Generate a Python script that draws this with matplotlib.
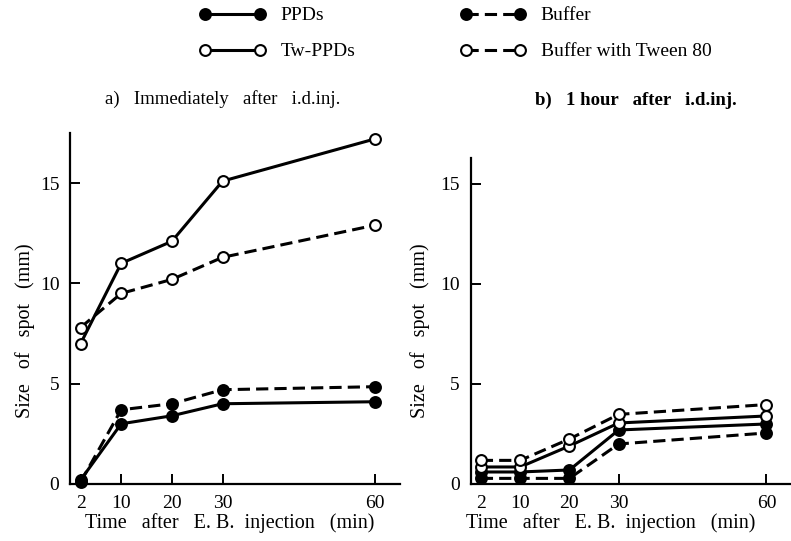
import matplotlib
matplotlib.use("Agg")
import matplotlib.pyplot as plt
from matplotlib.lines import Line2D

plt.rcParams['font.family'] = ['Liberation Serif', 'DejaVu Serif']

# time after E.B. injection (min)
time = [2, 10, 20, 30, 60]
time_ticks = [2, 10, 20, 30, 60]
size_ticks = [0, 5, 10, 15]

# a) immediately after i.d. injection
a_ppds = [0.2, 3.0, 3.4, 4.0, 4.1]
a_tw_ppds = [7.0, 11.0, 12.1, 15.1, 17.2]
a_buffer = [0.1, 3.7, 4.0, 4.7, 4.85]
a_buffer_tw = [7.8, 9.5, 10.2, 11.3, 12.9]

# b) 1 hour after i.d. injection
b_ppds = [0.6, 0.6, 0.7, 2.7, 3.0]
b_tw_ppds = [0.85, 0.85, 1.9, 3.05, 3.4]
b_buffer = [0.28, 0.28, 0.28, 2.0, 2.55]
b_buffer_tw = [1.18, 1.18, 2.25, 3.48, 3.97]

labels = ['PPDs', 'Tw-PPDs', 'Buffer', 'Buffer with Tween 80']

LW = 2.2
MS = 7.8
DASH = (4, 2)


def style(filled, dashed):
    kw = dict(color='black', lw=LW, marker='o', ms=MS, mew=1.5,
              mec='black', mfc='black' if filled else 'white', clip_on=False)
    if dashed:
        kw['dashes'] = DASH
    else:
        kw['ls'] = '-'
    return kw


styles = [style(True, False), style(False, False),
          style(True, True), style(False, True)]

fig = plt.figure(figsize=(7.91, 5.41), dpi=100)

ax_a = fig.add_axes([0.0891, 0.1054, 0.4166, 0.6488])
ax_b = fig.add_axes([0.5954, 0.1054, 0.4046, 0.6026])


def setup_ax(ax, series, ytop):
    for y, st in zip(series, styles):
        ax.plot(time, y, **st)
    ax.set_xlim(0, 65)
    ax.set_ylim(0, ytop)
    ax.spines['top'].set_visible(False)
    ax.spines['right'].set_visible(False)
    for s in ('left', 'bottom'):
        ax.spines[s].set_linewidth(1.6)
    ax.set_xticks(time_ticks)
    ax.set_yticks(size_ticks)
    ax.tick_params(direction='in', length=7, width=1.4, labelsize=14, pad=8)


setup_ax(ax_a, [a_ppds, a_tw_ppds, a_buffer, a_buffer_tw], 17.5)
setup_ax(ax_b, [b_ppds, b_tw_ppds, b_buffer, b_buffer_tw], 16.3)

# titles and axis labels
fig.text(0.281, 0.817, 'a)   Immediately   after   i.d.inj.', ha='center', va='center', fontsize=13.5)
fig.text(0.804, 0.815, 'b)   1 hour   after   i.d.inj.', ha='center', va='center',
         fontsize=13.5, fontweight='bold')
for x in (0.032, 0.531):
    fig.text(x, 0.388, 'Size   of   spot   (mm)', rotation=90, ha='center', va='center', fontsize=14.5)
xlab = 'Time   after   E. B.  injection   (min)'
fig.text(0.291, 0.033, xlab, ha='center', va='center', fontsize=14.5)
fig.text(0.772, 0.033, xlab, ha='center', va='center', fontsize=14.5)

# legend
handles = [Line2D([], [], **st) for st in styles]
fig.legend(handles, labels, ncol=2, loc='center', bbox_to_anchor=(0.576, 0.938),
           frameon=False, fontsize=14, handlelength=3.4, numpoints=2,
           columnspacing=5.4, labelspacing=0.95, handletextpad=0.75)

fig.savefig('out.png', dpi=100)
